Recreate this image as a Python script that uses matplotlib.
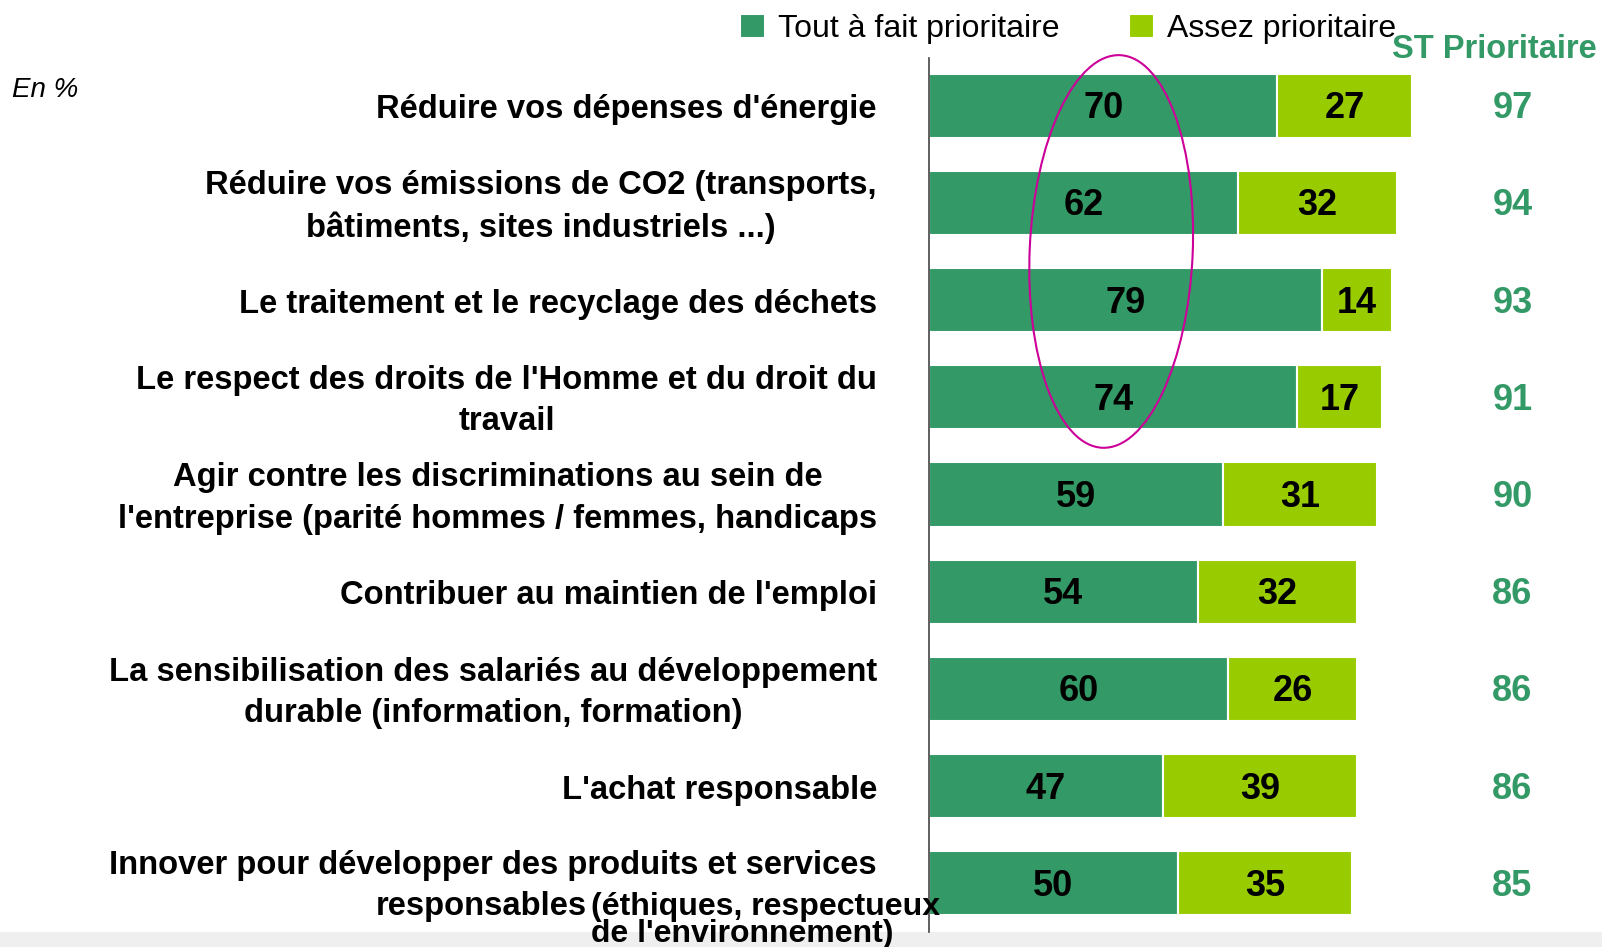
import matplotlib
matplotlib.use('Agg')
import matplotlib.pyplot as plt
from matplotlib.patches import Ellipse, Rectangle
from matplotlib.transforms import IdentityTransform

labels = [
    "Réduire vos dépenses d'énergie",
    "Réduire vos émissions de CO2 (transports,\nbâtiments, sites industriels ...)",
    "Le traitement et le recyclage des déchets",
    "Le respect des droits de l'Homme et du droit du\ntravail",
    "Agir contre les discriminations au sein de\nl'entreprise (parité hommes / femmes, handicaps",
    "Contribuer au maintien de l'emploi",
    "La sensibilisation des salariés au développement\ndurable (information, formation)",
    "L'achat responsable",
    "Innover pour développer des produits et services\nresponsables",
]
extra_note = "(éthiques, respectueux\nde l'environnement)"
tout_a_fait = [70, 62, 79, 74, 59, 54, 60, 47, 50]
assez = [27, 32, 14, 17, 31, 32, 26, 39, 35]
st_prioritaire = [97, 94, 93, 91, 90, 86, 86, 86, 85]
legend_names = ["Tout à fait prioritaire", "Assez prioritaire"]

DARK = '#339966'
LIGHT = '#99cc00'
W, H = 1602, 947
LABEL_SIZE = 23.6

plt.rcParams['font.family'] = ['Liberation Sans', 'DejaVu Sans']

fig = plt.figure(figsize=(W / 100, H / 100), dpi=100)
# light grey strip at the bottom
fig.add_artist(Rectangle((0, 0), 1, 15 / H, transform=fig.transFigure,
                         facecolor='#efefef', edgecolor='none', zorder=0))

ax = fig.add_axes([929 / W, 15 / H, 1 - 929 / W, (932 - 58) / H])
ax.set_zorder(1)
ax.patch.set_alpha(0)
y = list(range(len(labels)))
b1 = ax.barh(y, tout_a_fait, height=0.66, color=DARK, edgecolor='white', linewidth=1.5)
b2 = ax.barh(y, assez, left=tout_a_fait, height=0.66, color=LIGHT, edgecolor='white', linewidth=1.5)
ax.set_xlim(0, 135.2)
ax.set_ylim(8.50, -0.49)

num_style = dict(textcoords='offset pixels', ha='center', va='center',
                 fontsize=26, fontweight='bold', annotation_clip=False)
lab_style = dict(textcoords='offset pixels', va='center', fontsize=LABEL_SIZE,
                 fontweight='bold', annotation_clip=False)
for i in y:
    ax.annotate(str(tout_a_fait[i]), xy=(tout_a_fait[i] / 2, i), xytext=(0, -3),
                color='black', **num_style)
    ax.annotate(str(assez[i]), xy=(tout_a_fait[i] + assez[i] / 2, i), xytext=(0, -3),
                color='black', **num_style)
    ax.annotate(str(st_prioritaire[i]), xy=(118, i), xytext=(-4, -3),
                color=DARK, **num_style)
    if i < len(labels) - 1:
        ax.annotate(labels[i], xy=(0, i), xytext=(-52, -4), ha='right',
                    multialignment='center', linespacing=1.42, **lab_style)

# last label: second line runs into a smaller two-line note
first, second = labels[-1].split('\n')
last = len(labels) - 1
ax.annotate(first, xy=(0, last), xytext=(-52, 18), ha='right', **lab_style)
ax.annotate(second, xy=(0, last), xytext=(-342, -23), ha='right', **lab_style)
ax.annotate(extra_note, xy=(0, last), xytext=(-338, -37), textcoords='offset pixels',
            ha='left', va='center', multialignment='left',
            fontsize=23, fontweight='bold', linespacing=0.85,
            annotation_clip=False)

for s in ['top', 'right', 'bottom']:
    ax.spines[s].set_visible(False)
ax.spines['left'].set_color('#444444')
ax.spines['left'].set_linewidth(1.2)
ax.set_xticks([])
ax.set_yticks([])

fig.text(1494 / W, 1 - 50 / H, "ST Prioritaire", ha='center', va='center',
         fontsize=23.5, fontweight='bold', color=DARK)
fig.text(12 / W, 1 - 90 / H, "En %", ha='left', va='center',
         fontsize=20, fontstyle='italic')

fig.legend([b1, b2], legend_names, loc='center left',
           bbox_to_anchor=(740 / W, 1 - 29 / H), ncol=2, frameon=False,
           fontsize=23, borderpad=0, borderaxespad=0,
           handlelength=0.78, handleheight=0.78, handletextpad=0.4,
           columnspacing=2.2)

# highlight ellipse around the first four bars
cx, cy = ax.transData.transform((36.6, 1.5))
fig.add_artist(Ellipse((cx, cy), 163, 393, angle=-2.6, transform=IdentityTransform(),
                       fill=False, edgecolor='#cc0099', linewidth=1.5, zorder=5))

fig.savefig('out.png', dpi=100)
